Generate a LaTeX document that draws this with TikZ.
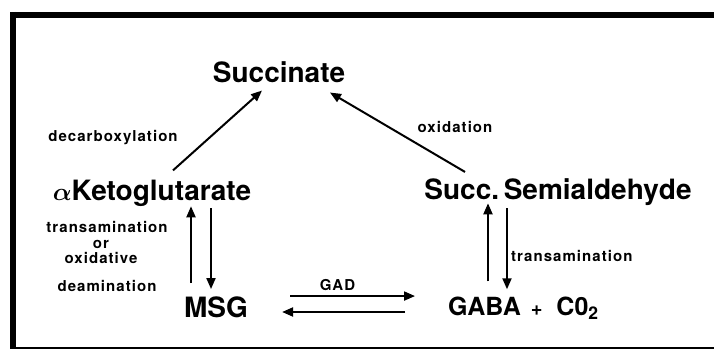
\documentclass[tikz,border=0pt]{standalone}
\usepackage{fontspec}
\usepackage{bm}
\setmainfont{TeX Gyre Heros}
\newfontfamily\labelfont[LetterSpace=7]{TeX Gyre Heros}
\usetikzlibrary{arrows.meta}

\begin{document}
\begin{tikzpicture}[
	x=1pt, y=-1pt,
	compound/.style={inner sep=0pt, anchor=base, font=\fontsize{28}{28}\selectfont\bfseries},
	enzyme/.style={inner sep=0pt, anchor=base, font=\fontsize{15}{15}\labelfont\bfseries},
	reaction/.style={-{Triangle[length=11pt,width=9pt]}, line width=2pt},
	rim/.style={line width=#1}
	]
	\useasboundingbox (0,0) rectangle (714,350);
	\draw[rim=6pt] (10,15) -- (714,15);
	\draw[rim=6pt] (13,12) -- (13,349);
	\draw[rim=2.5pt] (10,348) -- (714,348);

	\node[compound] (succ) at (279,83) {Succinate};
	\node[compound] (akg) at (152,200) {{\boldmath$\alpha$}Ketoglutarate};
	\node[compound] (ssa) at (558,199) {Succ.\,Semialdehyde};
	\node[compound] (msg) at (216,317) {MSG};
	\node[compound, anchor=base west, font=\fontsize{25}{25}\selectfont\bfseries] (gaba) at (448,315)
		{GABA\hspace{10pt}{\fontsize{20}{20}\selectfont +}\hspace{14pt}C0\textsubscript{2}};

	\node[enzyme] (decarb) at (113,141) {decarboxylation};
	\node[enzyme] (oxid) at (455,132) {oxidation};
	\node[enzyme] (transL) at (107,232) {transamination};
	\node[enzyme] (orL) at (101,248) {or};
	\node[enzyme] (oxidative) at (101,263) {oxidative};
	\node[enzyme] (deamin) at (107,291) {deamination};
	\node[enzyme, anchor=base west] (transR) at (511,261) {transamination};

	\draw[reaction] ([xshift=21pt,yshift=9pt]akg.north) -- ([xshift=-17pt,yshift=-7pt]succ.south);
	\draw[reaction] ([xshift=-93pt,yshift=6pt]ssa.north) -- ([xshift=51pt,yshift=-9pt]succ.south);

	\draw[reaction] ([xshift=-25pt,yshift=13pt]msg.north) -- ([xshift=-25pt]msg.north |- akg.south);
	\draw[reaction] ([xshift=-5pt,yshift=-2pt]msg.north |- akg.south) -- ([xshift=-5pt,yshift=7pt]msg.north);

	\draw[reaction] ([xshift=40pt,yshift=15pt]gaba.north west) -- ([xshift=40pt,yshift=2pt]gaba.north west |- ssa.south);
	\draw[reaction] ([xshift=59pt,yshift=-3pt]gaba.north west |- ssa.south) -- ([xshift=59pt,yshift=7pt]gaba.north west);

	\draw[reaction] ([xshift=42pt]msg.north east) -- node[enzyme, pos=0.38, anchor=south, yshift=4pt] (gad) {GAD}
		([xshift=-33pt]gaba.north west |- msg.north east);
	\draw[reaction] ([xshift=-43pt,yshift=5pt]gaba.base west |- msg.base east) -- ([xshift=34pt,yshift=5pt]msg.base east);
\end{tikzpicture}
\end{document}
